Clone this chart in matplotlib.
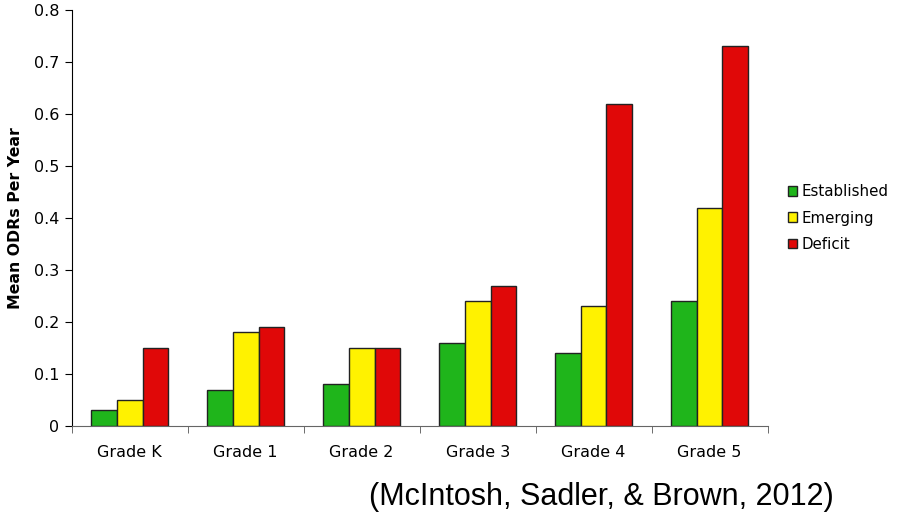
import numpy as np
import matplotlib.pyplot as plt

grades = ['Grade K', 'Grade 1', 'Grade 2', 'Grade 3', 'Grade 4', 'Grade 5']
established = [0.03, 0.07, 0.08, 0.16, 0.14, 0.24]
emerging = [0.05, 0.18, 0.15, 0.24, 0.23, 0.42]
deficit = [0.15, 0.19, 0.15, 0.27, 0.62, 0.73]

series = [('Established', established, '#1fb51b'),
          ('Emerging', emerging, '#fff200'),
          ('Deficit', deficit, '#e00808')]

fig = plt.figure(figsize=(8.98, 5.14), dpi=100)
ax = fig.add_axes([0.0798, 0.1712, 0.775, 0.8093])

x = np.arange(len(grades))
w = 0.222
for i, (name, vals, col) in enumerate(series):
    ax.bar(x + (i - 1) * w, vals, w, color=col, edgecolor='#222222',
           linewidth=1.0, label=name)

ax.set_xlim(-0.5, len(grades) - 0.5)
ax.set_ylim(0, 0.8)
ax.set_yticks(np.arange(0, 0.81, 0.1))
ax.set_yticklabels(['0'] + [f'{v:.1f}' for v in np.arange(0.1, 0.81, 0.1)])
ax.set_xticks(x)
ax.set_xticklabels(grades)
ax.set_xticks(np.arange(-0.5, len(grades)), minor=True)
ax.tick_params(axis='x', which='major', length=0, pad=14, labelsize=11.5)
ax.tick_params(axis='x', which='minor', length=5, direction='out', color='#555555')
ax.tick_params(axis='y', length=5, labelsize=11.5, pad=4)

for s in ['top', 'right']:
    ax.spines[s].set_visible(False)
ax.spines['bottom'].set_color('#666666')
ax.spines['left'].set_color('black')

ax.set_ylabel('Mean ODRs Per Year', fontsize=11.3, fontweight='bold', labelpad=8)

ax.legend(loc='center left', bbox_to_anchor=(1.014, 0.5), frameon=False,
          fontsize=10.8, handlelength=0.6, handleheight=0.6,
          labelspacing=0.75, handletextpad=0.3, borderaxespad=0.3)

fig.text(0.928, 0.0175, '(McIntosh, Sadler, & Brown, 2012)', ha='right', va='baseline',
         fontsize=22, family='Liberation Sans')

fig.savefig('out.png', dpi=100)
